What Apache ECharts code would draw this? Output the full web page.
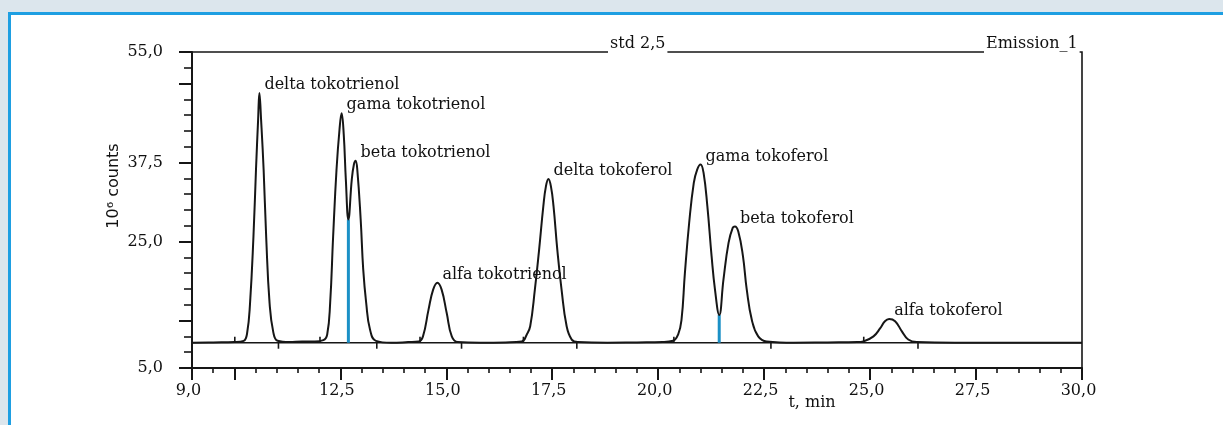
<!DOCTYPE html>
<html>
<head>
<meta charset="utf-8">
<script src="https://cdn.jsdelivr.net/npm/echarts@6/dist/echarts.min.js"></script>
<style>
html,body{margin:0;padding:0;background:#dce6ed;}
#c{width:1223px;height:425px;}
</style>
</head>
<body>
<div id="c"></div>
<script>
// ---- data ----
const traceT = [9.0, 9.5, 10.0, 10.22, 10.30, 10.37, 10.45, 10.51, 10.56, 10.59, 10.63, 10.69, 10.75, 10.83, 10.92, 11.02, 11.3, 11.6, 11.9,
  12.1, 12.19, 12.26, 12.33, 12.41, 12.48, 12.53, 12.58, 12.63, 12.69, 12.77, 12.82, 12.86, 12.90, 12.98, 13.04, 13.11, 13.20, 13.34, 13.7,
  14.1, 14.35, 14.45, 14.58, 14.69, 14.79, 14.89, 15.01, 15.13, 15.27, 15.8, 16.4,
  16.78, 16.90, 16.98, 17.09, 17.19, 17.29, 17.35, 17.41, 17.47, 17.53, 17.62, 17.72, 17.84, 17.96, 18.1, 18.8, 19.5,
  20.1, 20.35, 20.47, 20.55, 20.63, 20.73, 20.84, 20.92, 21.00, 21.07, 21.16, 21.26, 21.34, 21.44, 21.54, 21.66, 21.76, 21.81, 21.89, 22.00, 22.09, 22.21, 22.36, 22.56,
  23.2, 24.0, 24.7, 24.84, 25.08, 25.24, 25.35, 25.45, 25.59, 25.75, 25.90, 26.10, 27.0, 28.5, 30.0];
const traceV = [9.0, 9.05, 9.1, 9.3, 10.5, 15.3, 25.8, 36.4, 44.3, 48.5, 44.3, 36.4, 25.8, 15.3, 10.6, 9.3, 9.1, 9.2, 9.2,
  9.4, 10.3, 15.3, 25.8, 36.4, 42.7, 45.3, 42.0, 34.8, 28.5, 34.8, 37.2, 37.8, 36.4, 28.5, 20.6, 15.3, 11.1, 9.3, 9.0,
  9.1, 9.2, 10.0, 14.2, 17.4, 18.5, 17.4, 13.7, 10.0, 9.1, 9.0, 9.05,
  9.2, 10.3, 11.6, 17.4, 23.7, 30.6, 33.7, 34.9, 33.7, 30.6, 23.7, 17.4, 11.6, 9.5, 9.1, 9.0, 9.05,
  9.1, 9.3, 10.3, 12.6, 20.0, 27.9, 34.3, 36.4, 37.2, 35.9, 30.6, 22.7, 17.4, 13.4, 19.0, 24.8, 27.2, 27.4, 26.6, 22.7, 17.4, 12.6, 10.0, 9.2,
  9.0, 9.05, 9.1, 9.2, 10.0, 11.3, 12.4, 12.75, 12.4, 10.8, 9.5, 9.1, 9.0, 9.0, 9.0];

const baselineT = [9.0, 30.0];
const baselineV = [9.0, 9.0];

const peakNames = ['delta tokotrienol', 'gama tokotrienol', 'beta tokotrienol', 'alfa tokotrienol',
  'delta tokoferol', 'gama tokoferol', 'beta tokoferol', 'alfa tokoferol'];
const peakT = [10.59, 12.53, 12.86, 14.79, 17.41, 21.00, 21.81, 25.45];
const peakV = [48.5, 45.3, 37.8, 18.5, 34.9, 37.2, 27.4, 12.75];

const valleyT = [12.69, 21.44];
const valleyV = [28.5, 13.4];

const peakStartT = [10.01, 12.02, 14.38, 16.82, 20.37, 24.85];
const peakEndT = [11.04, 13.36, 15.36, 18.08, 22.66, 26.13];

const xLabelValues = [9, 12.5, 15, 17.5, 20, 22.5, 25, 27.5, 30];
const xMajorTicks = [9, 10, 12.5, 15, 17.5, 20, 22.5, 25, 27.5, 30];
const yLabelValues = [5, 25, 37.5, 55];
const yMajorTicks = [5, 12.5, 25, 37.5, 50, 55];

const titleText = 'std 2,5';
const channelText = 'Emission_1';
const xName = 't, min';
const yName = '10\u2076 counts';

// ---- chart ----
const ink = '#161616';
const textInk = '#111111';
const serif = '"DejaVu Serif", serif';
const fmt = v => Number(v).toFixed(1).replace('.', ',');

const chart = echarts.init(document.getElementById('c'), null, {renderer: 'canvas'});

const tracePts = traceT.map((t, i) => [t, traceV[i]]);
const basePts = baselineT.map((t, i) => [t, baselineV[i]]);
const blueSeries = valleyT.map((t, i) => ({
  type: 'line', xAxisIndex: 0, yAxisIndex: 0, z: 3,
  data: [[t, baselineV[0]], [t, valleyV[i]]],
  symbol: 'none', silent: true,
  lineStyle: {color: '#1b90c6', width: 3}
}));

chart.setOption({
  animation: false,
  backgroundColor: '#dce6ed',
  grid: {left: 192, right: 141, top: 52, bottom: 57, containLabel: false, outerBoundsMode: 'none',
    show: true, borderColor: ink, borderWidth: 1.6, backgroundColor: 'transparent'},
  xAxis: [{
    type: 'value', min: 9, max: 30, position: 'bottom',
    axisLine: {show: true, lineStyle: {color: ink, width: 2}},
    axisTick: {show: true, customValues: xMajorTicks, length: 12, lineStyle: {color: ink, width: 2}},
    axisLabel: {customValues: xLabelValues, formatter: fmt, margin: 15, fontFamily: serif, fontSize: 16, color: textInk, padding: [0, 7, 0, 0]},
    splitLine: {show: false}
  }, {
    type: 'value', min: 9, max: 30, interval: 0.5, position: 'bottom',
    axisLine: {show: false},
    axisTick: {show: true, length: 5, lineStyle: {color: ink, width: 1.6}},
    axisLabel: {show: false}, splitLine: {show: false}
  }],
  yAxis: [{
    type: 'value', min: 5, max: 55, position: 'left',
    axisLine: {show: true, lineStyle: {color: ink, width: 2}},
    axisTick: {show: true, customValues: yMajorTicks, length: 13, lineStyle: {color: ink, width: 2}},
    axisLabel: {customValues: yLabelValues, formatter: fmt, margin: 29, fontFamily: serif, fontSize: 16, color: textInk},
    splitLine: {show: false}
  }, {
    type: 'value', min: 5, max: 55, interval: 2.5, position: 'left',
    axisLine: {show: false},
    axisTick: {show: true, length: 8, lineStyle: {color: ink, width: 1.6}},
    axisLabel: {show: false}, splitLine: {show: false}
  }],
  series: [
    {type: 'line', name: 'baseline', data: basePts, symbol: 'none', silent: true, z: 2,
      lineStyle: {color: ink, width: 1.6}},
    ...blueSeries,
    {type: 'line', name: 'trace', data: tracePts, symbol: 'none', silent: true, z: 4,
      smooth: 0.45, lineStyle: {color: ink, width: 2}},
    {type: 'scatter', name: 'starts', data: peakStartT.map(t => [t, baselineV[0]]), symbol: 'rect',
      symbolSize: [1.6, 6], symbolOffset: [0, -3], itemStyle: {color: ink, opacity: 1}, silent: true, z: 4},
    {type: 'scatter', name: 'ends', data: peakEndT.map(t => [t, baselineV[0]]), symbol: 'rect',
      symbolSize: [1.6, 6], symbolOffset: [0, 3], itemStyle: {color: ink, opacity: 1}, silent: true, z: 4},
    {type: 'scatter', name: 'labels', silent: true, z: 5, symbolSize: 0,
      itemStyle: {color: 'rgba(0,0,0,0)', opacity: 1},
      data: peakT.map((t, i) => ({value: [t, peakV[i]], name: peakNames[i]})),
      label: {show: true, position: 'right', distance: 5, offset: [0, -8], formatter: '{b}',
        fontFamily: serif, fontSize: 16, color: textInk, opacity: 1}}
  ],
  graphic: [
    {type: 'rect', z: -10, silent: true, shape: {x: 9.5, y: 13.5, width: 1400, height: 600},
      style: {fill: '#ffffff', stroke: '#1e9fe2', lineWidth: 3}},
    {type: 'text', z: 100, x: 608, y: 44, silent: true,
      style: {text: titleText, font: '16px ' + serif, fill: textInk, verticalAlign: 'middle', align: 'left',
        backgroundColor: '#fff', padding: [1, 2, 3, 2]}},
    {type: 'text', z: 100, x: 984, y: 44, silent: true,
      style: {text: channelText, font: '16px ' + serif, fill: textInk, verticalAlign: 'middle', align: 'left',
        backgroundColor: '#fff', padding: [1, 2, 3, 2]}},
    {type: 'text', z: 100, x: 812, y: 403, silent: true,
      style: {text: xName, font: '16px ' + serif, fill: textInk, verticalAlign: 'middle', align: 'center'}},
    {type: 'text', z: 100, x: 114, y: 186, rotation: Math.PI / 2, silent: true,
      style: {text: yName, font: '16px "DejaVu Sans", sans-serif', fill: textInk, verticalAlign: 'middle', align: 'center'}}
  ]
});
</script>
</body>
</html>
